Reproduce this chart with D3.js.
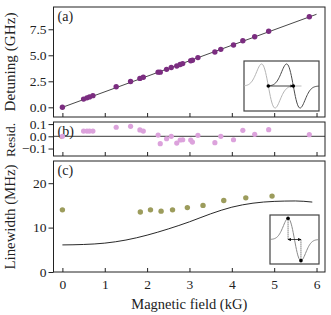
<!DOCTYPE html>
<html>
<head>
<meta charset="utf-8">
<script src="https://cdn.jsdelivr.net/npm/d3@7"></script>
<style>
body{margin:0;background:#fff;}
svg{display:block;font-family:"Liberation Serif",serif;}
</style>
</head>
<body>
<svg id="chart" width="331" height="315"></svg>
<script>
// field values (kG) of the measured points
var field=[0.0,0.50,0.58,0.64,0.72,1.27,1.61,1.83,1.91,2.26,2.31,2.46,2.57,2.70,2.78,2.84,3.03,3.07,3.20,3.60,3.74,4.04,4.26,4.54,4.87,5.83];
var detuning=[0.00,0.79,0.91,1.00,1.12,1.97,2.48,2.78,2.89,3.38,3.38,3.65,3.83,3.97,4.11,4.20,4.48,4.53,4.78,5.31,5.57,5.99,6.40,6.78,7.31,8.70];
var resid=[0.00,0.043,0.043,0.043,0.043,0.074,0.082,0.052,0.043,0.010,-0.060,-0.020,0.000,-0.055,-0.030,-0.028,-0.030,-0.047,0.008,-0.052,0.000,-0.028,0.049,0.016,0.054,0.013];
var fitField=[0,6];
var fitDet=[0,8.94];
// linewidth panel
var lwField=[0.0,1.84,2.08,2.33,2.60,2.95,3.32,3.81,4.33,4.95];
var lwVal=[14.0,13.5,14.0,13.7,14.0,14.5,15.0,16.1,16.7,17.1];
var modelField=[0,0.5,1,1.5,2,2.5,3,3.5,4,4.5,5,5.5,5.9];
var modelVal=[6.1,6.2,6.5,7.2,8.3,9.7,11.3,13.1,14.6,15.5,15.9,16.0,15.75];
var xTicks=[0,1,2,3,4,5,6];
var aTicks=[0,2.5,5,7.5];
var bTicks=[-0.1,0,0.1];
var cTicks=[0,10,20];

var svg=d3.select('#chart');
var L=53.5,R=325;
var x=d3.scaleLinear().domain([-0.21,6.2]).range([L,R]);
var ya=d3.scaleLinear().domain([-0.93,9.64]).range([117,7]);
var yb=d3.scaleLinear().domain([-0.161,0.117]).range([156,122]);
var yc=d3.scaleLinear().domain([0,25]).range([272,161]);
var spine='#222';
var fs=13.5;

function panel(y,ticks,fmt,label,showX){
  var top=y.range()[1],bot=y.range()[0];
  var ax=svg.append('g').attr('transform','translate('+L+',0)')
    .call(d3.axisLeft(y).tickValues(ticks).tickFormat(fmt).tickSize(5).tickPadding(2));
  ax.select('.domain').remove();
  ax.selectAll('line').attr('stroke',spine);
  ax.selectAll('text').attr('font-size',fs).attr('font-family','"Liberation Serif",serif').attr('fill','#222');
  var bx=svg.append('g').attr('transform','translate(0,'+bot+')')
    .call(d3.axisBottom(x).tickValues(xTicks).tickSize(-4).tickPadding(7).tickFormat(showX?d3.format('d'):''));
  bx.select('.domain').remove();
  bx.selectAll('line').attr('stroke',spine);
  bx.selectAll('text').attr('font-size',fs).attr('font-family','"Liberation Serif",serif').attr('fill','#222');
  svg.append('rect').attr('x',L).attr('y',top).attr('width',R-L).attr('height',bot-top)
    .attr('fill','none').attr('stroke',spine).attr('stroke-width',1);
  svg.append('text').attr('x',L+4).attr('y',top+14).attr('font-size',14).attr('fill','#222').text(label);
}

panel(ya,aTicks,d3.format('.1f'),'(a)',false);
panel(yb,bTicks,function(d){return d<0?'\u22120.1':d3.format('.1f')(d);},'(b)',false);
panel(yc,cTicks,d3.format('d'),'(c)',true);

// (a) fit line and points
svg.append('path').datum(d3.zip(fitField,fitDet))
  .attr('d',d3.line().x(function(d){return x(d[0]);}).y(function(d){return ya(d[1]);}))
  .attr('stroke','#333').attr('stroke-width',0.9).attr('fill','none');
svg.append('g').selectAll('circle').data(d3.zip(field,detuning)).join('circle')
  .attr('cx',function(d){return x(d[0]);}).attr('cy',function(d){return ya(d[1]);})
  .attr('r',2.7).attr('fill','#7b2d80');

// (b) zero line and residuals
svg.append('line').attr('x1',L).attr('x2',R).attr('y1',yb(0)).attr('y2',yb(0))
  .attr('stroke','#222').attr('stroke-width',0.9);
svg.append('g').selectAll('circle').data(d3.zip(field,resid)).join('circle')
  .attr('cx',function(d){return x(d[0]);}).attr('cy',function(d){return yb(d[1]);})
  .attr('r',2.6).attr('fill','#dca2dc');

// (c) model and linewidths
svg.append('path').datum(d3.zip(modelField,modelVal))
  .attr('d',d3.line().curve(d3.curveMonotoneX).x(function(d){return x(d[0]);}).y(function(d){return yc(d[1]);}))
  .attr('stroke','#111').attr('stroke-width',0.9).attr('fill','none');
svg.append('g').selectAll('circle').data(d3.zip(lwField,lwVal)).join('circle')
  .attr('cx',function(d){return x(d[0]);}).attr('cy',function(d){return yc(d[1]);})
  .attr('r',2.7).attr('fill','#9c9c5c');

// axis titles
svg.append('text').attr('transform','translate(15,62) rotate(-90)').attr('text-anchor','middle')
  .attr('font-size',14).attr('fill','#222').attr('textLength',99).attr('lengthAdjust','spacingAndGlyphs').text('Detuning (GHz)');
svg.append('text').attr('transform','translate(15,140) rotate(-90)').attr('text-anchor','middle')
  .attr('font-size',13.5).attr('fill','#222').text('Resid.');
svg.append('text').attr('transform','translate(15,217) rotate(-90)').attr('text-anchor','middle')
  .attr('font-size',14).attr('fill','#222').attr('textLength',105).attr('lengthAdjust','spacingAndGlyphs').text('Linewidth (MHz)');
svg.append('text').attr('x',(L+R)/2).attr('y',309).attr('text-anchor','middle')
  .attr('font-size',14).attr('fill','#222').attr('textLength',116).attr('lengthAdjust','spacingAndGlyphs').text('Magnetic field (kG)');

// schematic insets: derivative-of-gaussian line shapes
var defs=svg.append('defs');
defs.append('marker').attr('id','ah').attr('viewBox','0 0 10 10').attr('refX',9).attr('refY',5)
  .attr('markerWidth',4).attr('markerHeight',4).attr('orient','auto-start-reverse')
  .append('path').attr('d','M0,0L10,5L0,10z').attr('fill','#111');
function dg(u){return -u*Math.exp(-u*u/2);}
var us=d3.range(-12,12.01,0.1);

// inset (a)
var ia={x0:244,x1:319,y0:61,y1:111};
var iax=d3.scaleLinear().domain([-3.6,7.5]).range([ia.x0,ia.x1]);
var iay=d3.scaleLinear().domain([-0.66,0.66]).range([ia.y1-1,ia.y0+1]);
var shift=3.7;
var ig=svg.append('g');
ig.append('rect').attr('x',ia.x0).attr('y',ia.y0).attr('width',ia.x1-ia.x0).attr('height',ia.y1-ia.y0)
  .attr('fill','#fff').attr('stroke','#444').attr('stroke-width',1.2);
var clipA=defs.append('clipPath').attr('id','ca');
clipA.append('rect').attr('x',ia.x0).attr('y',ia.y0).attr('width',ia.x1-ia.x0).attr('height',ia.y1-ia.y0);
var lineA=function(off){return d3.line().x(function(u){return iax(u+off);}).y(function(u){return iay(dg(u));});};
ig.append('path').datum(us.filter(function(u){return u>-4&&u<5;})).attr('d',lineA(0))
  .attr('clip-path','url(#ca)').attr('fill','none').attr('stroke','#b4b4b4').attr('stroke-width',1);
ig.append('path').datum(us.filter(function(u){return u>-3.6&&u<5;})).attr('d',lineA(shift))
  .attr('clip-path','url(#ca)').attr('fill','none').attr('stroke','#4a4a4a').attr('stroke-width',1);
ig.append('line').attr('x1',iax(0)).attr('x2',iax(shift)).attr('y1',iay(0)).attr('y2',iay(0))
  .attr('stroke','#111').attr('stroke-width',0.8).attr('marker-end','url(#ah)');
ig.selectAll('circle').data([0,shift]).join('circle')
  .attr('cx',function(d){return iax(d);}).attr('cy',iay(0)).attr('r',1.8).attr('fill','#000');

// inset (c)
var ic={x0:270,x1:319,y0:215,y1:264};
var icx=d3.scaleLinear().domain([-3.8,3.8]).range([ic.x0,ic.x1]);
var icy=d3.scaleLinear().domain([-0.66,0.66]).range([ic.y1-1.5,ic.y0+1.5]);
var ig2=svg.append('g');
ig2.append('rect').attr('x',ic.x0).attr('y',ic.y0).attr('width',ic.x1-ic.x0).attr('height',ic.y1-ic.y0)
  .attr('fill','#fff').attr('stroke','#444').attr('stroke-width',1.2);
ig2.append('path').datum(us.filter(function(u){return u>=-3.8&&u<=3.8;}))
  .attr('d',d3.line().x(function(u){return icx(u);}).y(function(u){return icy(dg(u));}))
  .attr('fill','none').attr('stroke','#8a8a8a').attr('stroke-width',1);
[-1,1].forEach(function(u){
  ig2.append('line').attr('x1',icx(u)).attr('x2',icx(u)).attr('y1',icy(dg(u))).attr('y2',icy(0))
    .attr('stroke','#111').attr('stroke-width',0.8).attr('stroke-dasharray','1,1');
});
ig2.append('line').attr('x1',icx(-1)).attr('x2',icx(1)).attr('y1',icy(0)).attr('y2',icy(0))
  .attr('stroke','#111').attr('stroke-width',0.8).attr('marker-end','url(#ah)').attr('marker-start','url(#ah)');
ig2.selectAll('circle').data([-1,1]).join('circle')
  .attr('cx',function(u){return icx(u);}).attr('cy',function(u){return icy(dg(u));}).attr('r',1.8).attr('fill','#000');
</script>
</body>
</html>
